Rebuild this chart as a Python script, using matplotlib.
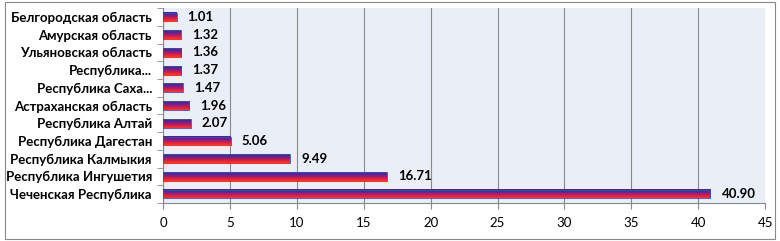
import matplotlib
matplotlib.use("Agg")
import matplotlib.pyplot as plt
import numpy as np
from matplotlib.colors import LinearSegmentedColormap
from matplotlib.patches import Rectangle

categories = ["Чеченская Республика", "Республика Ингушетия", "Республика Калмыкия",
              "Республика Дагестан", "Республика Алтай", "Астраханская область",
              "Республика Саха...", "Республика...", "Ульяновская область",
              "Амурская область", "Белгородская область"]
values = [40.90, 16.71, 9.49, 5.06, 2.07, 1.96, 1.47, 1.37, 1.36, 1.32, 1.01]
value_labels = ["40.90", "16.71", "9.49", "5.06", "2.07", "1.96", "1.47", "1.37", "1.36", "1.32", "1.01"]
xticks = [0, 5, 10, 15, 20, 25, 30, 35, 40, 45]

plt.rcParams['font.family'] = ['Lato', 'DejaVu Sans']

fig = plt.figure(figsize=(7.8, 2.41), dpi=100)
ax = fig.add_axes([0.209, 0.158, 0.772, 0.808])
ax.set_facecolor("#EAEEF6")

y = np.arange(len(categories))
h = 0.5
cmap = LinearSegmentedColormap.from_list("g", ["#2E2EA0", "#7A1A90", "#E01838", "#FF3A1A"])
grad = np.linspace(0, 1, 64).reshape(-1, 1)
for yi, v in zip(y, values):
    ax.imshow(grad, aspect='auto', cmap=cmap, origin='upper',
              extent=[0, v, yi - h / 2, yi + h / 2], zorder=3, interpolation='bilinear')
    r = Rectangle((0, yi - h / 2), v, h, facecolor='none', edgecolor='#3A50B0', lw=0.6, zorder=4)
    ax.add_patch(r)
for yi, v, lab in zip(y, values, value_labels):
    ax.annotate(lab, (v, yi), xytext=(8, 0), textcoords='offset points',
                ha='left', va='center', fontsize=9.5, fontweight='bold', color='black', zorder=5)

ax.set_xlim(0, 45)
ax.set_ylim(-0.5, len(categories) - 0.5)
ax.set_xticks(xticks)
ax.set_xticklabels([str(t) for t in xticks], fontsize=9.5)
ax.set_yticks(y)
ax.set_yticklabels(categories, fontsize=9.5, fontweight='bold')
ax.set_yticks(np.arange(-0.5, len(categories), 1), minor=True)
ax.tick_params(axis='y', which='major', length=0, pad=8)
ax.tick_params(axis='y', which='minor', length=4, color='#888888', direction='out')
ax.tick_params(axis='x', length=4, color='#888888', pad=6)
ax.grid(axis='x', color='#8A8A8A', lw=0.8, zorder=1)
ax.set_axisbelow(True)
for s in ['top', 'right']:
    ax.spines[s].set_visible(False)
ax.spines['left'].set_color('#888888')
ax.spines['bottom'].set_color('#888888')

fig.patches.append(Rectangle((0.006, 0.01), 0.988, 0.98, transform=fig.transFigure,
                             fill=False, edgecolor='#888888', lw=0.8))

fig.savefig("out.png", dpi=100)
